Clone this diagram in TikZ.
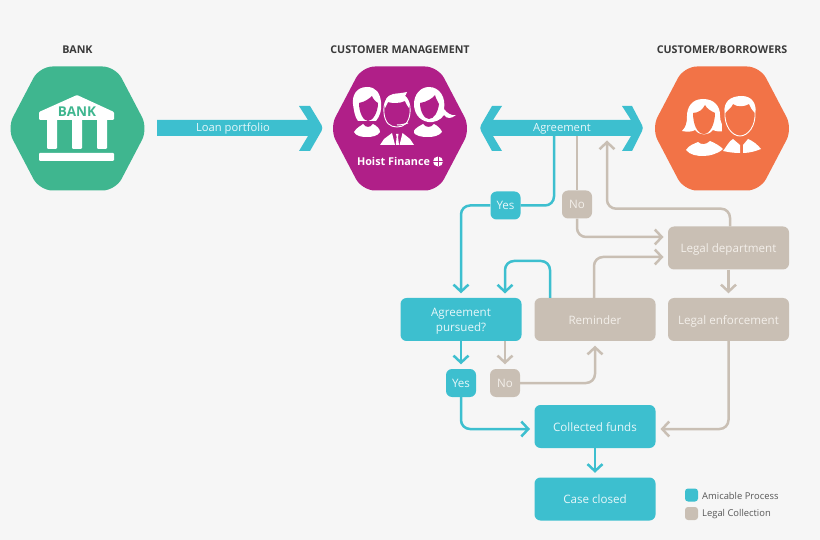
\documentclass[tikz,border=0pt]{standalone}
\usepackage{fontspec}
\setmainfont{Open Sans}
\usetikzlibrary{arrows.meta}
\definecolor{teal}{HTML}{3DBFCF}
\definecolor{tan}{HTML}{C9BFB4}
\definecolor{hexgreen}{HTML}{3FB68F}
\definecolor{hexmag}{HTML}{B01F88}
\definecolor{hexorange}{HTML}{F27347}
\definecolor{page}{HTML}{F6F6F6}
\definecolor{head}{HTML}{3A3A3A}
\definecolor{lighttan}{HTML}{F3EFEA}
\definecolor{lightteal}{HTML}{E6F7FA}
\tikzset{
  x=1pt,y=-1pt,
  box/.style={rounded corners=6pt,inner sep=0pt,align=center,font=\fontsize{11.6}{15}\selectfont,text height=11pt,text depth=2pt},
  tealbox/.style={box,fill=teal,text=lightteal,minimum width=121pt,minimum height=43pt},
  tanbox/.style={box,fill=tan,text=lighttan,minimum width=121pt,minimum height=43pt},
  chip/.style={minimum width=30pt,minimum height=28pt},
  hexbox/.style={minimum width=135pt,minimum height=123pt,inner sep=0pt},
  heading/.style={font=\fontsize{10.7}{12}\selectfont\bfseries,text=head},
  barlabel/.style={font=\fontsize{11.2}{13}\selectfont,text=lightteal,inner sep=1pt},
  tealplain/.style={draw=teal,line width=2.5pt,rounded corners=9pt},
  tanplain/.style={draw=tan,line width=2.5pt,rounded corners=9pt},
  tealline/.style={tealplain,shorten >=4.5pt,-{Straight Barb[length=7pt,width=15pt]}},
  tanline/.style={tanplain,shorten >=4.5pt,-{Straight Barb[length=7pt,width=15pt]}},
  legendkey/.style={minimum size=13pt,inner sep=0pt,rounded corners=3pt},
  legendtext/.style={font=\fontsize{9.4}{11}\selectfont,text=head!85,anchor=west,inner sep=0pt},
}
\newcommand\hexshape[2]{\fill[#2,rounded corners=13pt,shift={(#1)}]
  (-70.5,0)--(-38,-62)--(38,-62)--(70.5,0)--(38,62)--(-38,62)--cycle;}
\begin{document}
\begin{tikzpicture}
\useasboundingbox (0,0) rectangle (820,540);
\fill[page] (0,0) rectangle (820,540);
% hexagons
\node[hexbox] (bank) at (77.5,128.5) {};
\node[hexbox] (cust) at (400,128.5) {};
\node[hexbox] (borrow) at (722,128.5) {};
\hexshape{bank}{hexgreen}
\hexshape{cust}{hexmag}
\hexshape{borrow}{hexorange}
\node[heading] (hbank) at (77.5,49.7) {BANK};
\node[heading] (hcust) at (400,49.7) {CUSTOMER MANAGEMENT};
\node[heading] (hborrow) at (722,49.7) {CUSTOMER/BORROWERS};
% bank icon
\fill[white,rounded corners=1pt] (77,95)--(114,112)--(114,120)--(39,120)--(39,112)--cycle;
\fill[white,rounded corners=1pt] (47,119) rectangle (57,149);
\fill[white,rounded corners=1pt] (72,119) rectangle (82,149);
\fill[white,rounded corners=1pt] (97,119) rectangle (107,149);
\fill[white,rounded corners=1pt] (39,153) rectangle (114,161);
\node[font=\fontsize{13.5}{14}\selectfont\bfseries,text=hexgreen,inner sep=0pt] (banktxt) at (77,111.7) {BANK};
% customer management icon: left woman
\fill[white] (367,87) .. controls (356,87) and (352,96) .. (353,104) .. controls (354,112) and (355,117) .. (358,121) -- (376,121) .. controls (380,116) and (382,110) .. (381,102) .. controls (380,93) and (376,87) .. (367,87) -- cycle;
\fill[hexmag] (359,103) .. controls (365,102) and (370,98) .. (372,96) .. controls (373,99) and (376,102) .. (378,103) .. controls (378,112) and (373,121) .. (368,121) .. controls (363,121) and (359,112) .. (359,103) -- cycle;
\fill[white] (354,132) .. controls (357,127) and (361,126) .. (363,124) .. controls (366,128) and (370,128) .. (373,124) .. controls (377,126) and (380,129) .. (380,132) .. controls (378,136) and (372,137) .. (367,137) .. controls (361,137) and (356,136) .. (354,132) -- cycle;
% right woman
\fill[white] (429,87) .. controls (420,87) and (414,95) .. (414,104) .. controls (414,112) and (418,120) .. (428,122) .. controls (434,123) and (441,120) .. (444,115) .. controls (447,119) and (451,119) .. (456,115) .. controls (451,116) and (447,113) .. (444,109) .. controls (446,98) and (440,87) .. (429,87) -- cycle;
\fill[hexmag] (420,103) .. controls (427,102) and (433,98) .. (435,95) .. controls (436,99) and (438,102) .. (439,104) .. controls (438,112) and (434,119) .. (429,119) .. controls (424,119) and (420,111) .. (420,103) -- cycle;
\fill[white] (413,132) .. controls (416,127) and (420,126) .. (423,124) .. controls (426,128) and (431,128) .. (434,124) .. controls (438,126) and (441,129) .. (442,132) .. controls (439,136) and (433,137) .. (428,137) .. controls (421,137) and (416,136) .. (413,132) -- cycle;
% man with headset
\fill[hexmag] (380,146) rectangle (414,128);
\filldraw[draw=hexmag,fill=hexmag,line width=3pt] (397,94) .. controls (387,94) and (383,103) .. (384,113) .. controls (385,123) and (390,127) .. (397,128) .. controls (404,127) and (409,123) .. (410,113) .. controls (411,103) and (407,94) .. (397,94) -- cycle;
\filldraw[draw=white,fill=hexmag,line width=.9pt] (397,94) .. controls (387,94) and (383,103) .. (384,113) .. controls (385,123) and (390,127) .. (397,127) .. controls (404,127) and (409,123) .. (410,113) .. controls (411,103) and (407,94) .. (397,94) -- cycle;
\fill[white] (385,108) .. controls (384,99) and (388,95) .. (392,95) .. controls (398,93) and (403,93) .. (407,92) .. controls (406,94) and (406,95) .. (405,96) .. controls (408,98) and (410,103) .. (409,108) .. controls (407,106) and (406,103) .. (405,101) .. controls (399,104) and (390,103) .. (388,102) .. controls (387,104) and (386,106) .. (385,108) -- cycle;
\draw[white,line width=1pt] (397,125) .. controls (402,125) and (405,124) .. (408,123);
\fill[white] (380,145)--(384,139)--(392,133)--(395,145)--cycle;
\fill[white] (399.5,145)--(402.5,133)--(410,139)--(414,145)--cycle;
\fill[white] (396,134)--(398.5,134)--(398,137)--(399,145)--(395.8,145)--(396.6,137)--cycle;
\node[font=\fontsize{10.8}{13}\selectfont\bfseries,text=white,inner sep=0pt] (hoist) at (393.5,161.5) {Hoist Finance};
\fill[white] (438,161.5) circle (5);
\draw[hexmag,line width=.9pt] (438,156.5) -- (438,166.5) (433,161.5) -- (443,161.5);
% borrowers icon: woman
\fill[white] (703,99) .. controls (692,99) and (687,107) .. (687,116) .. controls (687,123) and (686,127) .. (682,131) .. controls (687,132) and (692,132) .. (695,130) .. controls (700,136) and (708,136) .. (713,130) .. controls (717,132) and (722,132) .. (727,130) .. controls (722,126) and (720,122) .. (720,115) .. controls (720,106) and (714,99) .. (703,99) -- cycle;
\fill[hexorange] (693,113) .. controls (699,113) and (703,109) .. (705,105) .. controls (707,109) and (711,111) .. (715,113) .. controls (715,124) and (710,134) .. (704,134) .. controls (697,134) and (693,124) .. (693,113) -- cycle;
\fill[white] (686,150) .. controls (689,145) and (694,144) .. (698,142) .. controls (701,145) and (706,145) .. (710,141) .. controls (715,143) and (720,146) .. (723,149) .. controls (718,154) and (709,156) .. (703,156) .. controls (697,156) and (690,155) .. (686,150) -- cycle;
% man
\fill[hexorange] (722,105) rectangle (759,140);
\filldraw[draw=white,fill=hexorange,line width=.9pt] (725,112) .. controls (724,126) and (732,136) .. (740,136) .. controls (748,136) and (756,126) .. (755,112) .. controls (756,104) and (750,98) .. (740,98) .. controls (730,98) and (724,104) .. (725,112) -- cycle;
\fill[white] (725,113) .. controls (723,102) and (730,96) .. (742,96) .. controls (752,96) and (757,104) .. (755,113) .. controls (752,110) and (750,107) .. (749,104) .. controls (744,107) and (737,107) .. (733,104) .. controls (731,108) and (728,110) .. (725,113) -- cycle;
\fill[white] (723,151) .. controls (727,146) and (729,141) .. (733,139) -- (740,145) -- (740,153) .. controls (733,153) and (728,152) .. (723,151) -- cycle;
\fill[white] (743,153) -- (743,145) -- (748,139) .. controls (753,141) and (758,145) .. (761,149) .. controls (756,151) and (750,153) .. (743,153) -- cycle;
% big arrows
\fill[teal] (157,120)--(308,120)--(299,106)--(310,106)--(321.5,125)..controls (322.5,127) and (322.5,129)..(321.5,131)--(310,151)--(299,151)--(308,136)--(157,136)--cycle;
\node[barlabel] (loan) at (233,129) {Loan portfolio};
\fill[teal] (493,120)--(502,106)--(492,106)--(481,125)..controls (480,127) and (480,129)..(481,131)--(492,151)--(502,151)--(493,136)
  --(631,136)--(622,151)--(632,151)--(642,131)..controls (643,129) and (643,127)..(642,125)--(632,106)--(622,106)--(631,120)--cycle;
\node[barlabel] (agree) at (562,129) {Agreement};
% boxes
\node[tealbox,text height=,text depth=] (pursued) at (461,319.5) {\rule{0pt}{11.7pt}Agreement\\pursued?};
\node[tanbox] (reminder) at (595,319.5) {Reminder};
\node[tanbox] (enforce) at (728.5,319.5) {Legal enforcement};
\node[tanbox] (dept) at (728.5,248) {Legal department};
\node[tealbox] (funds) at (595,426.5) {Collected funds};
\node[tealbox] (closed) at (595,499) {Case closed};
\node[box,chip,fill=teal,text=lightteal] (yes1) at (505.5,205.5) {Yes};
\node[box,chip,fill=tan,text=lighttan] (no1) at (577,204.5) {No};
\node[box,chip,fill=teal,text=lightteal] (yes2) at (461,383) {Yes};
\node[box,chip,fill=tan,text=lighttan] (no2) at (505,383) {No};
% legend
\node[legendkey,fill=teal] (keya) at (691.5,495) {};
\node[legendkey,fill=tan] (keyb) at (691.5,513.5) {};
\node[legendtext] (texta) at (702,495.5) {Amicable Process};
\node[legendtext] (textb) at (702,514) {Legal Collection};
% connector end points
\coordinate (agYes) at (554,136);
\coordinate (agNo) at (577,136);
\coordinate (agBack) at (607,136);
\coordinate (deptA) at (668,237);
\coordinate (deptB) at (668,257);
\coordinate (deptTop) at (730,226.5);
\coordinate (remTop) at (594,298);
\coordinate (remBack) at (550,298);
\coordinate (persA) at (505,298);
\coordinate (persB) at (461,341);
\coordinate (persC) at (505,341);
\coordinate (fundsR) at (656,429);
\coordinate (fundsL) at (534.5,429);
% connectors
\draw[tealplain] (agYes) |- (yes1.east);
\draw[tealline] (yes1.west) -| (pursued.north);
\draw[tanplain] (agNo) -- (no1.north);
\draw[tanline] (no1.south) |- (deptA);
\draw[tanline] (deptTop) |- (607,208.7) -- (agBack);
\draw[tanline] (remTop) |- (deptB);
\draw[tealline] (remBack) |- (505,261) -- (persA);
\draw[tanline] (dept.south) -- (enforce.north);
\draw[tealline] (persB) -- (yes2.north);
\draw[tanline] (persC) -- (no2.north);
\draw[tanline] (no2.east) -| (reminder.south);
\draw[tealline] (yes2.south) |- (fundsL);
\draw[tanline] (enforce.south) |- (fundsR);
\draw[tealline] (funds.south) -- (closed.north);
\end{tikzpicture}
\end{document}
